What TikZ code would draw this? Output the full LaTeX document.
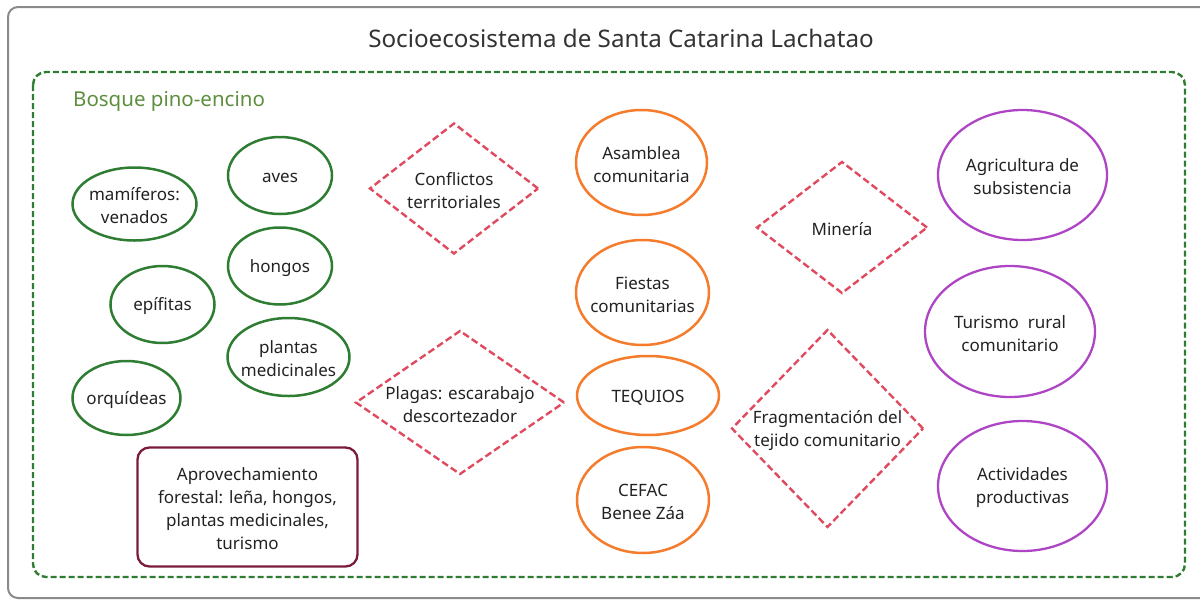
\documentclass[tikz,border=0pt]{standalone}
\usepackage{fontspec}
\setmainfont{Noto Sans}
\usetikzlibrary{shapes.geometric}
\definecolor{framegray}{HTML}{8A8A8A}
\definecolor{titlegray}{HTML}{333333}
\definecolor{forest}{HTML}{2E7D32}
\definecolor{foresttext}{HTML}{5E8E3E}
\definecolor{threat}{HTML}{E04A5F}
\definecolor{social}{HTML}{F47C2C}
\definecolor{econ}{HTML}{AE45C4}
\definecolor{maroon}{HTML}{7A1B3E}
\definecolor{ink}{HTML}{222222}
\begin{document}
\begin{tikzpicture}[x=1pt,y=-1pt,
  txt/.style={align=center,text=ink,font=\fontsize{17}{23}\selectfont,inner sep=0,yshift=-2pt},
  shp/.style={inner sep=0,outer sep=0},
  gell/.style={shp,ellipse,draw=forest,line width=2.5pt},
  oell/.style={shp,ellipse,draw=social,line width=2.5pt},
  pell/.style={shp,ellipse,draw=econ,line width=2.3pt},
  diam/.style={shp,diamond,draw=threat,line width=2.4pt,dash pattern=on 7pt off 3.5pt},
  usebox/.style={shp,rectangle,rounded corners=12pt,draw=maroon,line width=2.3pt}
]
\useasboundingbox (0,0) rectangle (1200,600);
% outer frame
\draw[framegray,line width=2pt,rounded corners=10pt] (8,7) rectangle (1215,598);
\node[font=\fontsize{24.2}{28}\selectfont,text=titlegray,inner sep=0] (title) at (621,38) {Socioecosistema de Santa Catarina Lachatao};
% forest region
\draw[forest,line width=2.4pt,dash pattern=on 6pt off 3pt,rounded corners=13pt] (33,72) rectangle (1185,577);
\node[anchor=west,font=\fontsize{20.5}{24}\selectfont,text=foresttext,inner sep=0] (bosque) at (73,101) {Bosque pino-encino};
% green: biodiversity
\node[gell,minimum width=124,minimum height=73,label={[txt]center:mamíferos:\\venados}] (mam) at (134.5,204) {};
\node[gell,minimum width=104,minimum height=77,label={[txt]center:aves}] (aves) at (280,175.5) {};
\node[gell,minimum width=104,minimum height=77,label={[txt]center:hongos}] (hongos) at (280,266) {};
\node[gell,minimum width=104,minimum height=77,label={[txt]center:epífitas}] (epif) at (162.5,304.5) {};
\node[gell,minimum width=122,minimum height=78,label={[txt]center:plantas\\medicinales}] (plantas) at (288.5,357) {};
\node[gell,minimum width=108,minimum height=74,label={[txt]center:orquídeas}] (orq) at (126.5,398) {};
% forest use
\node[usebox,minimum width=220,minimum height=119,label={[txt]center:Aprovechamiento\\forestal: leña, hongos,\\plantas medicinales,\\turismo}] (aprov) at (247.5,507) {};
% threats
\node[diam,minimum width=168,minimum height=130,label={[txt]center:Conflictos\\territoriales}] (confl) at (454,188.5) {};
\node[diam,minimum width=208,minimum height=143,label={[txt]center:Plagas: escarabajo\\descortezador}] (plagas) at (460,402.5) {};
\node[diam,minimum width=170,minimum height=131,label={[txt]center:Minería}] (mineria) at (842,227.5) {};
\node[diam,minimum width=191,minimum height=197,label={[txt]center:Fragmentación del\\tejido comunitario}] (frag) at (827.5,428.5) {};
% social organisation
\node[oell,minimum width=131,minimum height=105,label={[txt]center:Asamblea\\comunitaria}] (asamblea) at (641.5,162.5) {};
\node[oell,minimum width=133,minimum height=105,label={[txt]center:Fiestas\\comunitarias}] (fiestas) at (642.5,292.5) {};
\node[oell,minimum width=142,minimum height=79,label={[txt]center:TEQUIOS}] (tequios) at (648,395.5) {};
\node[oell,minimum width=132,minimum height=106,label={[txt]center:CEFAC\\Benee Záa}] (cefac) at (643,500) {};
% economy
\node[pell,minimum width=169,minimum height=130,label={[txt]center:Agricultura de\\subsistencia}] (agri) at (1022.5,175) {};
\node[pell,minimum width=170,minimum height=131,label={[txt]center:Turismo\ \ rural\\comunitario}] (turismo) at (1010,331.5) {};
\node[pell,minimum width=169,minimum height=130,label={[txt]center:Actividades\\productivas}] (activ) at (1022.5,486) {};
\end{tikzpicture}
\end{document}
